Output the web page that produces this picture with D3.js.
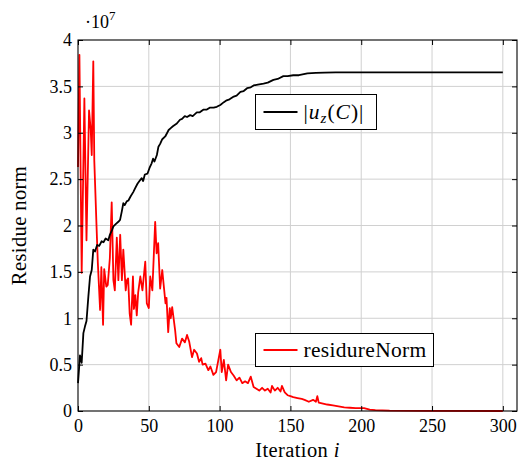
<!DOCTYPE html>
<html>
<head>
<meta charset="utf-8">
<script src="https://cdn.jsdelivr.net/npm/d3@7"></script>
<style>
  body { margin: 0; background: #fff; }
  text { font-family: "Liberation Serif", serif; fill: #000; }
</style>
</head>
<body>
<div class="chart"></div>
<script>
// values (y in units of 1e7)
var uzIter = [0, 1.4, 2.6, 3.8, 4.9, 6, 7.3, 8.5, 9.7, 10.8, 12, 13.5, 15, 16.7, 18, 19.5, 21.4, 22.5, 24, 25,
  27, 28.5, 29.7, 30.9, 32, 33, 34.4, 35.6, 37, 39, 40.3, 42, 43.9, 45, 46, 47.2, 49.1, 50.5, 52, 53,
  54, 55.7, 56.8, 58, 59.5, 61.6, 63, 64, 65.5, 67, 69.8, 72, 73.5, 75.4, 77, 79.2, 81, 83.9, 86, 88.7,
  91, 93, 95.8, 98, 100.5, 103, 105, 107, 110, 112, 114.7, 117, 119.4, 122, 124, 127, 131, 134, 138, 141,
  145, 148, 152, 156, 162, 168, 174, 182, 192, 210, 240, 270, 300];
var uzVal = [0.3, 0.6, 0.52, 0.84, 0.91, 0.97, 1.23, 1.45, 1.52, 1.74, 1.72, 1.79, 1.78, 1.83, 1.82, 1.86, 1.84, 1.9, 1.95, 1.99,
  2.02, 2.04, 2.06, 2.15, 2.24, 2.22, 2.26, 2.27, 2.31, 2.36, 2.4, 2.45, 2.49, 2.51, 2.48, 2.55, 2.56, 2.62, 2.67, 2.72,
  2.69, 2.76, 2.85, 2.88, 2.93, 2.96, 3.0, 3.03, 3.05, 3.07, 3.1, 3.14, 3.15, 3.18, 3.17, 3.19, 3.18, 3.22, 3.22, 3.25,
  3.25, 3.27, 3.27, 3.28, 3.3, 3.33, 3.35, 3.36, 3.39, 3.4, 3.44, 3.45, 3.48, 3.49, 3.51, 3.52, 3.53, 3.54, 3.57, 3.58,
  3.61, 3.61, 3.62, 3.62, 3.64, 3.645, 3.648, 3.65, 3.652, 3.65, 3.65, 3.65, 3.65];

var resIter = [0, 1, 2.6, 4.5, 6, 7.8, 9, 9.7, 10.8, 11.5, 13, 14, 15.6, 16.5, 17.7, 18.5, 20, 21, 22.5, 23.8,
  25, 26, 27.4, 28.5, 29.8, 31, 32, 33.7, 34.5, 35.4, 36.5, 37.5, 38.8, 39.5, 40.5, 41.5, 42.5, 44, 45.5, 47.5,
  48.6, 50, 51, 52.5, 54.5, 55.5, 56.6, 58, 59.5, 60.5, 61.8, 62.5, 63.7, 64.8, 65.5, 66.5, 68.6, 69.5, 71.5, 73.5,
  75.5, 77, 78.5, 80.5, 82, 84, 85.5, 87, 88, 90, 92, 93.5, 95.6, 97.5, 98.5, 100.5, 101.5, 103, 104.6, 106,
  108, 110, 112, 114, 116, 118, 120, 122, 124, 126, 128, 130, 132, 134, 136, 137, 139, 141, 143, 144,
  146, 148, 150, 152, 155, 158, 160, 163, 166, 168, 169, 170, 173, 176, 180, 184, 188, 192, 196, 202,
  206, 210, 220, 240, 300];
var resVal = [2.63, 3.84, 1.49, 3.37, 1.84, 3.24, 3.03, 2.76, 3.77, 2.7, 2.03, 1.6, 1.09, 1.55, 0.93, 1.53, 1.34, 1.36, 1.65, 2.25,
  1.41, 1.3, 1.87, 1.41, 1.9, 1.41, 1.74, 1.3, 1.41, 1.43, 1.05, 0.93, 1.45, 1.1, 1.25, 1.03, 1.28, 1.45, 1.3, 1.61,
  1.16, 1.11, 1.45, 1.3, 2.04, 1.7, 1.81, 1.32, 1.52, 1.36, 1.16, 1.22, 0.85, 1.11, 1.0, 1.12, 0.87, 0.73, 0.69, 0.78,
  0.74, 0.82, 0.75, 0.58, 0.66, 0.62, 0.53, 0.57, 0.5, 0.51, 0.44, 0.48, 0.39, 0.42, 0.5, 0.66, 0.42, 0.55, 0.33, 0.5,
  0.42, 0.38, 0.33, 0.36, 0.3, 0.32, 0.3, 0.37, 0.26, 0.24, 0.22, 0.25, 0.22, 0.24, 0.2, 0.27, 0.22, 0.25, 0.21, 0.27,
  0.2, 0.17, 0.16, 0.15, 0.14, 0.13, 0.12, 0.1, 0.12, 0.1, 0.16, 0.09, 0.08, 0.07, 0.06, 0.05, 0.04, 0.035, 0.03, 0.03,
  0.015, 0.01, 0.005, 0.002, 0];

var xTicks = [0, 50, 100, 150, 200, 250, 300];
var yTicks = [0, 0.5, 1, 1.5, 2, 2.5, 3, 3.5, 4];

// setting up the chart
var widthSVG = 526;
var heightSVG = 463;
var margins = { top: 40, right: 9, bottom: 52, left: 78 };
var width = widthSVG - margins.left - margins.right;
var height = heightSVG - margins.top - margins.bottom;

var svg = d3.select(".chart").append("svg")
  .attr("width", widthSVG)
  .attr("height", heightSVG);

var g = svg.append("g")
  .attr("transform", `translate(${margins.left}, ${margins.top})`);

var x = d3.scaleLinear().domain([0, 310]).range([0, width]);
var y = d3.scaleLinear().domain([0, 4]).range([height, 0]);

// grid
g.append("g").selectAll("line").data(xTicks.filter(d => d > 0))
  .enter().append("line")
  .attr("x1", d => x(d)).attr("x2", d => x(d))
  .attr("y1", 0).attr("y2", height)
  .attr("stroke", "#d0d0d0").attr("stroke-width", 1);
g.append("g").selectAll("line").data(yTicks.filter(d => d > 0 && d < 4))
  .enter().append("line")
  .attr("x1", 0).attr("x2", width)
  .attr("y1", d => y(d)).attr("y2", d => y(d))
  .attr("stroke", "#d0d0d0").attr("stroke-width", 1);

// lines
var uzLine = d3.line().x((d, i) => x(uzIter[i])).y(d => y(d));
var resLine = d3.line().x((d, i) => x(resIter[i])).y(d => y(d));

g.append("path").datum(resVal)
  .attr("d", resLine)
  .attr("fill", "none").attr("stroke", "#ff0000")
  .attr("stroke-width", 1.8).attr("stroke-linejoin", "round");

g.append("path").datum(uzVal)
  .attr("d", uzLine)
  .attr("fill", "none").attr("stroke", "#000")
  .attr("stroke-width", 1.8).attr("stroke-linejoin", "round");

// axes, inner ticks on all sides
var fmtY = d => d3.format("")(d);

var axB = g.append("g").attr("transform", `translate(0, ${height})`)
  .call(d3.axisBottom(x).tickValues(xTicks).tickSize(-5).tickSizeOuter(0).tickPadding(8));
var axT = g.append("g")
  .call(d3.axisTop(x).tickValues(xTicks).tickSize(-5).tickSizeOuter(0).tickFormat(""));
var axL = g.append("g")
  .call(d3.axisLeft(y).tickValues(yTicks).tickSize(-5).tickSizeOuter(0).tickPadding(6).tickFormat(fmtY));
var axR = g.append("g").attr("transform", `translate(${width}, 0)`)
  .call(d3.axisRight(y).tickValues(yTicks).tickSize(-5).tickSizeOuter(0).tickFormat(""));

[axB, axT, axL, axR].forEach(a => {
  a.select(".domain").remove();
  a.selectAll("line").attr("stroke", "#000").attr("stroke-width", 1);
  a.selectAll("text").attr("font-family", "Liberation Serif").attr("font-size", 18).attr("fill", "#000");
});

// frame
g.append("rect")
  .attr("width", width).attr("height", height)
  .attr("fill", "none").attr("stroke", "#000").attr("stroke-width", 1.1);

// exponent label
var expo = svg.append("text")
  .attr("x", 85).attr("y", 28)
  .attr("font-size", 18);
expo.append("tspan").text("·10");
expo.append("tspan").attr("dy", -8).attr("font-size", 13).text("7");

// axis labels
svg.append("text")
  .attr("transform", `translate(26, ${margins.top + height / 2}) rotate(-90)`)
  .attr("text-anchor", "middle")
  .attr("font-size", 20.5)
  .attr("letter-spacing", 0.4)
  .text("Residue norm");

var xl = svg.append("text")
  .attr("x", margins.left + width / 2).attr("y", 457)
  .attr("text-anchor", "middle")
  .attr("font-size", 20.5)
  .attr("letter-spacing", 0.4);
xl.append("tspan").text("Iteration ");
xl.append("tspan").attr("font-style", "italic").text("i");

// legends
function legend(x0, y0, w, h, color) {
  var lg = svg.append("g").attr("transform", `translate(${x0}, ${y0})`);
  lg.append("rect").attr("width", w).attr("height", h)
    .attr("fill", "#fff").attr("stroke", "#000").attr("stroke-width", 1);
  lg.append("line").attr("x1", 8).attr("x2", 42).attr("y1", h / 2).attr("y2", h / 2)
    .attr("stroke", color).attr("stroke-width", 1.8);
  return lg.append("text").attr("x", 48).attr("y", h / 2 + 7).attr("font-size", 21.5);
}

var t1 = legend(255.5, 94.5, 121, 35, "#000");
t1.attr("letter-spacing", 1);
t1.append("tspan").text("|");
t1.append("tspan").attr("font-style", "italic").text("u");
t1.append("tspan").attr("font-style", "italic").attr("font-size", 15).attr("dy", 4).text("z");
t1.append("tspan").attr("dy", -4).text("(");
t1.append("tspan").attr("font-style", "italic").text("C");
t1.append("tspan").text(")|");

var t2 = legend(255.5, 333.5, 178, 33, "#ff0000");
t2.attr("letter-spacing", 0.3).text("residureNorm");
</script>
</body>
</html>
